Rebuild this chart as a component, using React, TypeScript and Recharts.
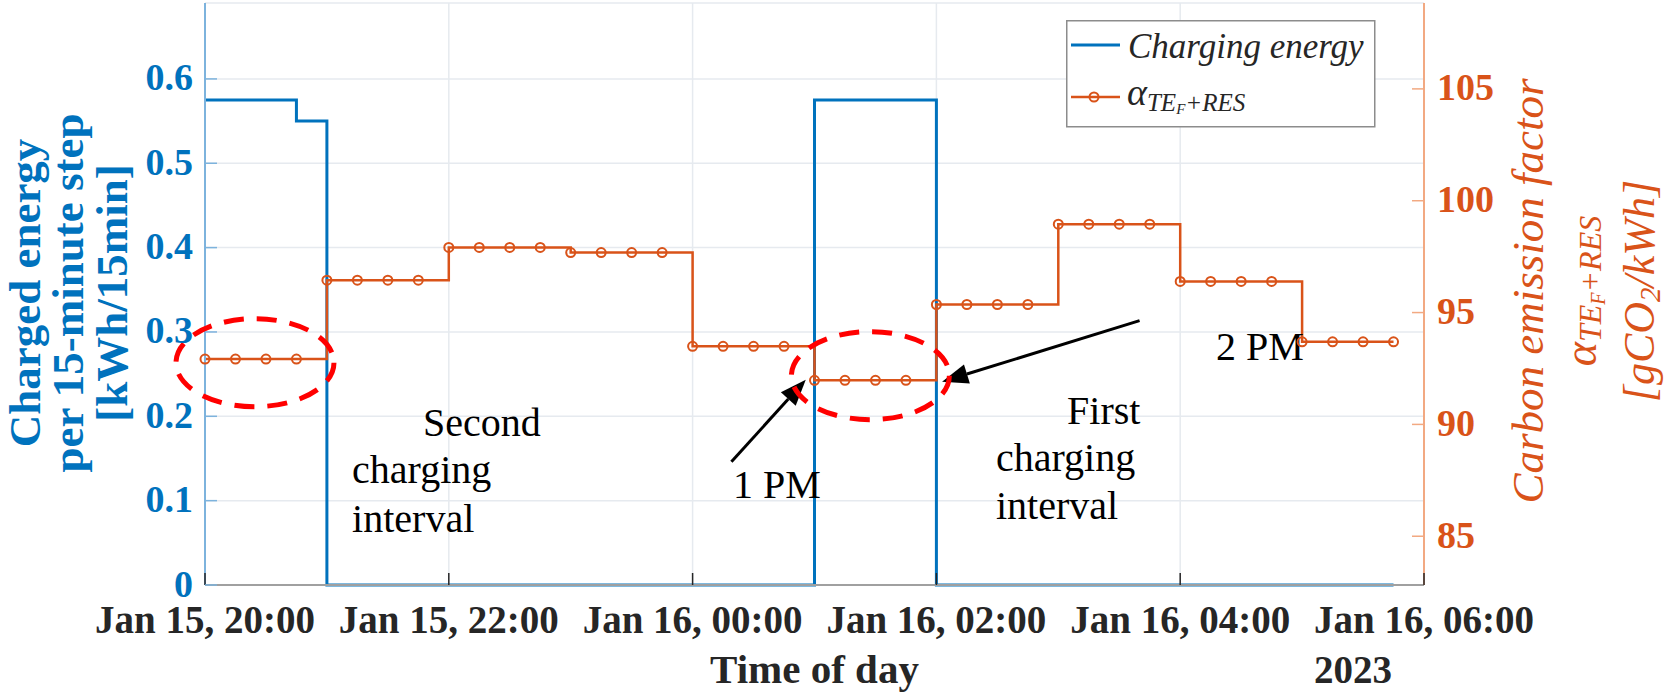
import React from 'react';
import {
  ComposedChart,
  Line,
  XAxis,
  YAxis,
  CartesianGrid,
  Legend,
  ReferenceDot,
  ReferenceLine,
} from 'recharts';

// 15-minute steps, Jan 15 20:00 -> Jan 16 05:45
const times = [
  '20:00', '20:15', '20:30', '20:45', '21:00', '21:15', '21:30', '21:45',
  '22:00', '22:15', '22:30', '22:45', '23:00', '23:15', '23:30', '23:45',
  '00:00', '00:15', '00:30', '00:45', '01:00', '01:15', '01:30', '01:45',
  '02:00', '02:15', '02:30', '02:45', '03:00', '03:15', '03:30', '03:45',
  '04:00', '04:15', '04:30', '04:45', '05:00', '05:15', '05:30', '05:45',
];

// kWh per 15 min
const chargingEnergy = [
  0.575, 0.575, 0.575, 0.55, 0, 0, 0, 0,
  0, 0, 0, 0, 0, 0, 0, 0,
  0, 0, 0, 0, 0.575, 0.575, 0.575, 0.575,
  0, 0, 0, 0, 0, 0, 0, 0,
  0, 0, 0, 0, 0, 0, 0, 0,
];

// gCO2/kWh
const carbonFactor = [
  92.92, 92.92, 92.92, 92.92, 96.45, 96.45, 96.45, 96.45,
  97.91, 97.91, 97.91, 97.91, 97.68, 97.68, 97.68, 97.68,
  93.49, 93.49, 93.49, 93.49, 91.97, 91.97, 91.97, 91.97,
  95.36, 95.36, 95.36, 95.36, 98.95, 98.95, 98.95, 98.95,
  96.39, 96.39, 96.39, 96.39, 93.69, 93.69, 93.69, 93.69,
];

const xTicks = [0, 120, 240, 360, 480, 600];
const xTickLabels = [
  'Jan 15, 20:00',
  'Jan 15, 22:00',
  'Jan 16, 00:00',
  'Jan 16, 02:00',
  'Jan 16, 04:00',
  'Jan 16, 06:00',
];
const leftTicks = [0, 0.1, 0.2, 0.3, 0.4, 0.5, 0.6];
const leftTickLabels = ['0', '0.1', '0.2', '0.3', '0.4', '0.5', '0.6'];
const rightTicks = [85, 90, 95, 100, 105];

// annotations (x in minutes after 20:00, y on the left axis)
const notes = [
  { text: 'Second', x: 107.3, y: 0.1766 },
  { text: 'charging', x: 72.4, y: 0.1209 },
  { text: 'interval', x: 72.4, y: 0.0628 },
  { text: '1 PM', x: 259.9, y: 0.103 },
  { text: 'First', x: 424.3, y: 0.1909 },
  { text: 'charging', x: 389.3, y: 0.1352 },
  { text: 'interval', x: 389.3, y: 0.0782 },
  { text: '2 PM', x: 497.6, y: 0.2667 },
];
const arrows = [
  { from: { x: 259.1, y: 0.146 }, to: { x: 295.7, y: 0.2433 } },
  { from: { x: 460.0, y: 0.3135 }, to: { x: 362.8, y: 0.241 } },
];
// circled regions (y on the right axis)
const circles = [
  { x: 24.6, y: 92.76 },
  { x: 327.5, y: 92.18 },
];

const BLUE = '#0072BD';
const ORANGE = '#D95319';
const TEXT = '#262626';
const SERIF = '"Liberation Serif", "Times New Roman", serif';

const toMinutes = (t: string) => {
  const [h, m] = t.split(':').map(Number);
  return ((h < 12 ? h + 24 : h) - 20) * 60 + m;
};

const data = times.map((t, i) => ({
  t: toMinutes(t),
  energy: chargingEnergy[i],
  carbon: carbonFactor[i],
}));

const XTick = (props: any) => {
  const { x, y, payload } = props;
  const i = xTicks.indexOf(payload.value);
  return (
    <g>
      <line x1={x} x2={x} y1={y} y2={y - 12} stroke={TEXT} strokeWidth={1.5} />
      <text x={x} y={y + 48} textAnchor="middle" fontFamily={SERIF} fontWeight="bold" fontSize={39} fill={TEXT}>
        {xTickLabels[i]}
      </text>
      {i === xTicks.length - 1 && (
        <text x={x - 110} y={y + 98} textAnchor="start" fontFamily={SERIF} fontWeight="bold" fontSize={39} fill={TEXT}>
          2023
        </text>
      )}
    </g>
  );
};

const TopTick = (props: any) => {
  const { x, y } = props;
  return <line x1={x} x2={x} y1={y} y2={y + 12} stroke={TEXT} strokeWidth={1.5} />;
};

const LeftTick = (props: any) => {
  const { x, y, payload } = props;
  const i = leftTicks.indexOf(payload.value);
  return (
    <g>
      <line x1={x} x2={x + 12} y1={y} y2={y} stroke="#7DB3DD" strokeWidth={1.5} />
      <text x={x - 12} y={y + 11.5} textAnchor="end" fontFamily={SERIF} fontWeight="bold" fontSize={38} fill={BLUE}>
        {leftTickLabels[i]}
      </text>
    </g>
  );
};

const RightTick = (props: any) => {
  const { x, y, payload } = props;
  return (
    <g>
      <line x1={x} x2={x - 12} y1={y} y2={y} stroke="#F2A982" strokeWidth={1.5} />
      <text x={x + 13} y={y + 11.5} textAnchor="start" fontFamily={SERIF} fontWeight="bold" fontSize={38} fill={ORANGE}>
        {payload.value}
      </text>
    </g>
  );
};

const rot = (x: number, y: number) => `rotate(-90, ${x}, ${y})`;

const LeftLabel = (props: any) => {
  const vb = props.viewBox || { x: 0, y: 3, width: 205, height: 582 };
  const cy = vb.y + vb.height / 2 - 1;
  const lines = ['Charged energy', 'per 15-minute step', '[kWh/15min]'];
  const base = [40, 83, 127];
  return (
    <g>
      {lines.map((l, i) => (
        <text
          key={l}
          x={vb.x + base[i]}
          y={cy}
          transform={rot(vb.x + base[i], cy)}
          textAnchor="middle"
          fontFamily={SERIF}
          fontWeight="bold"
          fontSize={45}
          fill={BLUE}
        >
          {l}
        </text>
      ))}
    </g>
  );
};

const RightLabel = (props: any) => {
  const vb = props.viewBox || { x: 1424, y: 3, width: 243, height: 582 };
  const cy = vb.y + vb.height / 2 - 3;
  const x1 = vb.x + 119;
  const x2 = vb.x + 172;
  const x3 = vb.x + 230;
  const common = { fontFamily: SERIF, fontStyle: 'italic', fill: ORANGE, textAnchor: 'middle' as const };
  return (
    <g>
      <text x={x1} y={cy} transform={rot(x1, cy)} fontSize={45} {...common}>
        Carbon emission factor
      </text>
      <text x={x2} y={cy} transform={rot(x2, cy)} fontSize={46} {...common}>
        α<tspan fontSize={32} dy={5}>TE</tspan>
        <tspan fontSize={20} dy={4}>F</tspan>
        <tspan fontSize={32} dy={-4}>+RES</tspan>
      </text>
      <text x={x3} y={cy} transform={rot(x3, cy)} fontSize={44} {...common}>
        [gCO<tspan fontSize={29} dy={6}>2</tspan>
        <tspan dy={-6}>/kWh]</tspan>
      </text>
    </g>
  );
};

const XLabel = (props: any) => {
  const vb = props.viewBox || { x: 205, y: 585, width: 1219, height: 113 };
  return (
    <text x={vb.x + vb.width / 2} y={vb.y + 98} textAnchor="middle" fontFamily={SERIF} fontWeight="bold" fontSize={41} fill={TEXT}>
      Time of day
    </text>
  );
};

const LegendBox = () => (
  <svg width={310} height={108} style={{ display: 'block' }}>
    <rect x={0.75} y={0.75} width={308} height={106} fill="#fff" stroke="#8C8C8C" strokeWidth={1.5} />
    <line x1={5} x2={54} y1={25} y2={25} stroke={BLUE} strokeWidth={3} />
    <text x={62} y={38} fontFamily={SERIF} fontStyle="italic" fontSize={35} fill={TEXT}>
      Charging energy
    </text>
    <line x1={5} x2={54} y1={77} y2={77} stroke={ORANGE} strokeWidth={2.5} />
    <circle cx={28} cy={77} r={4.5} fill="none" stroke={ORANGE} strokeWidth={2} />
    <text x={61} y={85} fontFamily={SERIF} fontStyle="italic" fontSize={38} fill={TEXT}>
      α<tspan fontSize={25} dy={6}>TE</tspan>
      <tspan fontSize={15} dy={3}>F</tspan>
      <tspan fontSize={25} dy={-3}>+RES</tspan>
    </text>
  </svg>
);

const Arrow = (props: any) => {
  const { x1, y1, x2, y2 } = props;
  const dx = x2 - x1;
  const dy = y2 - y1;
  const len = Math.sqrt(dx * dx + dy * dy) || 1;
  const ux = dx / len;
  const uy = dy / len;
  const hl = 26;
  const hw = 10;
  const bx = x2 - ux * hl;
  const by = y2 - uy * hl;
  return (
    <g>
      <line x1={x1} y1={y1} x2={bx} y2={by} stroke="#000" strokeWidth={3} />
      <polygon
        points={`${x2},${y2} ${bx - uy * hw},${by + ux * hw} ${bx + uy * hw},${by - ux * hw}`}
        fill="#000"
      />
    </g>
  );
};

export default function App() {
  return (
    <div style={{ position: 'absolute', left: 0, top: 0, width: 1667, height: 698, background: '#fff' }}>
      <ComposedChart width={1667} height={698} data={data} margin={{ top: 3, right: 0, bottom: 0, left: 0 }}>
        <CartesianGrid yAxisId="left" stroke="#E6EAEF" strokeWidth={1.5} />
        <XAxis
          dataKey="t"
          type="number"
          domain={[0, 600]}
          ticks={xTicks}
          interval={0}
          height={113}
          tickSize={0}
          tickMargin={0}
          tickLine={false}
          axisLine={{ stroke: '#A0A0A0', strokeWidth: 2 }}
          tick={<XTick />}
          label={<XLabel />}
        />
        <XAxis
          xAxisId="top"
          orientation="top"
          dataKey="t"
          type="number"
          domain={[0, 600]}
          ticks={xTicks}
          interval={0}
          height={0}
          tickSize={0}
          tickMargin={0}
          tickLine={false}
          axisLine={{ stroke: '#A8A8A8', strokeWidth: 2 }}
          tick={<TopTick />}
        />
        <YAxis
          yAxisId="left"
          orientation="left"
          width={205}
          domain={[0, 0.69]}
          ticks={leftTicks}
          interval={0}
          tickSize={0}
          tickMargin={0}
          tickLine={false}
          axisLine={{ stroke: '#7DB3DD', strokeWidth: 2 }}
          tick={<LeftTick />}
          label={<LeftLabel />}
        />
        <YAxis
          yAxisId="right"
          orientation="right"
          width={243}
          domain={[82.82, 108.84]}
          ticks={rightTicks}
          interval={0}
          tickSize={0}
          tickMargin={0}
          tickLine={false}
          axisLine={{ stroke: '#F2A982', strokeWidth: 2 }}
          tick={<RightTick />}
          label={<RightLabel />}
        />
        <Legend
          layout="horizontal"
          verticalAlign="middle"
          align="center"
          content={() => <LegendBox />}
          wrapperStyle={{ position: 'absolute', left: 1066, top: 20, width: 310, height: 108 }}
        />
        <Line
          yAxisId="left"
          type="stepAfter"
          dataKey="energy"
          name="Charging energy"
          stroke={BLUE}
          strokeWidth={3}
          dot={false}
          isAnimationActive={false}
        />
        <Line
          yAxisId="right"
          type="stepAfter"
          dataKey="carbon"
          name="alpha TE_F+RES"
          stroke={ORANGE}
          strokeWidth={2.5}
          dot={{ r: 4.5, fill: 'none', stroke: ORANGE, strokeWidth: 2 }}
          isAnimationActive={false}
        />
        {circles.map((c, i) => (
          <ReferenceDot
            key={'c' + i}
            yAxisId="right"
            x={c.x}
            y={c.y}
            r={1}
            shape={(p: any) => (
              <ellipse cx={p.cx} cy={p.cy} rx={79} ry={44} fill="none" stroke="#FF0000" strokeWidth={5} strokeDasharray="20 13" />
            )}
          />
        ))}
        {arrows.map((a, i) => (
          <ReferenceLine key={'a' + i} yAxisId="left" segment={[a.from, a.to]} shape={(p: any) => <Arrow {...p} />} />
        ))}
        {notes.map((n, i) => (
          <ReferenceDot
            key={'n' + i}
            yAxisId="left"
            x={n.x}
            y={n.y}
            r={1}
            shape={(p: any) => (
              <text x={p.cx} y={p.cy} fontFamily={SERIF} fontSize={40} fill="#000">
                {n.text}
              </text>
            )}
          />
        ))}
      </ComposedChart>
    </div>
  );
}
